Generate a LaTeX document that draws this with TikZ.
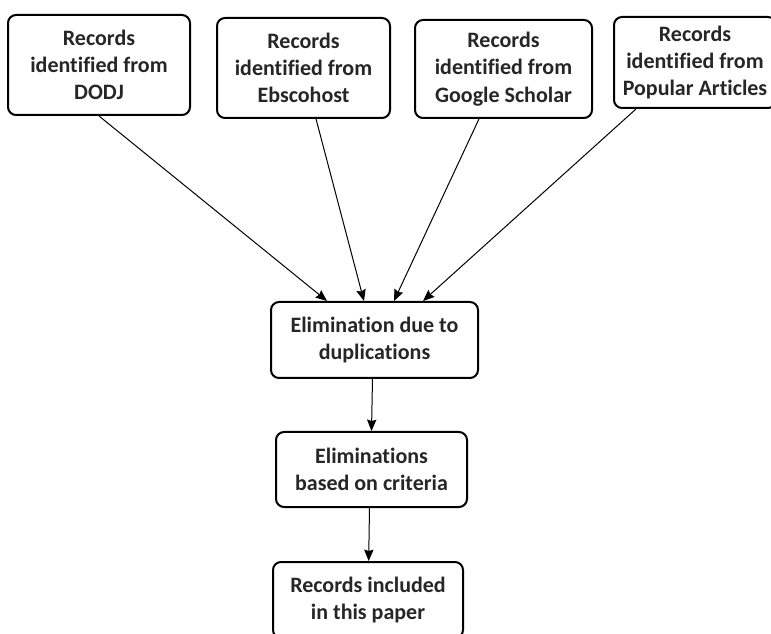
\documentclass[tikz,border=0pt]{standalone}
\usepackage{fontspec}
\setmainfont{Carlito}[Ligatures=NoCommon]
\usetikzlibrary{arrows.meta}
\begin{document}
\begin{tikzpicture}[x=0.75pt,y=-0.75pt,
    box/.style={draw=black,line width=1.5pt,rounded corners=6pt,align=center,inner sep=2pt,
      text=black!85,font=\fontsize{16.5}{20.5}\selectfont\bfseries},
    arr/.style={line width=0.75pt,-{Stealth[inset=1pt,length=8.5pt,width=7pt]}}]
    \useasboundingbox (0,0) rectangle (771,634);
    % sources
    \node [box,minimum width=136.5pt,minimum height=75pt] (dodj) at (99,65) {Records\\identified from\\DODJ};
    \node [box,minimum width=129.75pt,minimum height=75pt] (ebsco) at (303.5,68) {Records\\identified from\\Ebscohost};
    \node [box,minimum width=132.75pt,minimum height=73.5pt] (scholar) at (503.5,69) {Records\\identified from\\Google Scholar};
    \node [box,minimum width=121.5pt,minimum height=68.25pt] (popular) at (695,62.5) {Records\\identified from\\Popular Articles};
    % steps
    \node [box,minimum width=155.25pt,minimum height=57pt] (dupl) at (374.5,340) {Elimination due to\\duplications};
    \node [box,minimum width=143.25pt,minimum height=56.25pt] (crit) at (371.5,469.5) {Eliminations\\based on criteria};
    \node [box,minimum width=142.5pt,minimum height=57pt] (incl) at (368,600) {Records included\\in this paper};
    % connectors
    \draw [arr] (dodj.south) -- ([xshift=-35.6pt]dupl.north);
    \draw [arr] ([xshift=9.4pt]ebsco.south) -- ([xshift=-7.9pt]dupl.north);
    \draw [arr] ([xshift=-18.4pt]scholar.south) -- ([xshift=14.6pt]dupl.north);
    \draw [arr] ([xshift=-44.25pt]popular.south) -- ([xshift=36.4pt]dupl.north);
    \draw [arr] ([xshift=-1.5pt]dupl.south) -- (crit.north);
    \draw [arr] ([xshift=-1.5pt]crit.south) -- ([xshift=0.5pt]incl.north);
\end{tikzpicture}
\end{document}
